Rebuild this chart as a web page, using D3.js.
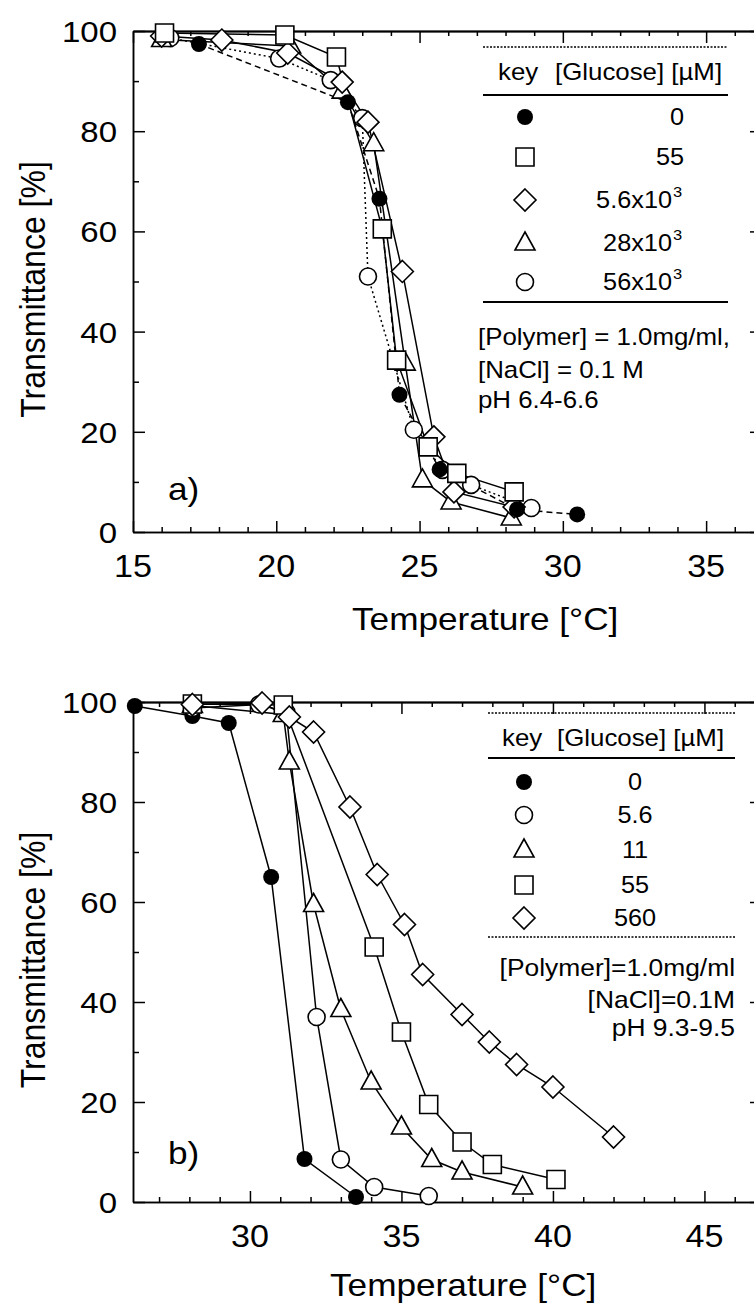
<!DOCTYPE html>
<html><head><meta charset="utf-8">
<script src="https://cdn.jsdelivr.net/npm/d3@7"></script>
<style>
html,body{margin:0;padding:0;background:#fff;}
svg{display:block;}
text{font-family:"Liberation Sans",Arial,Helvetica,sans-serif;fill:#000;}
</style></head><body>
<svg id="chart" width="754" height="1306"></svg>
<script>
// ---- Panel a) transmittance vs temperature, pH 6.4-6.6 : [T (°C), T (%)]
const a_glc0    = [[17.3,97.4],[22.5,85.8],[23.6,66.5],[24.3,27.4],[25.7,12.5],[28.4,4.5],[30.5,3.5]];
const a_glc55   = [[16.1,99.6],[20.3,99.2],[22.1,94.8],[23.7,60.5],[24.2,34.3],[25.3,17],[26.3,11.7],[28.3,8]];
const a_glc5600 = [[16.0,99],[18.1,98.2],[20.4,95.6],[22.3,89.8],[23.2,81.8],[24.4,52],[25.5,19],[26.2,8],[28.3,5]];
const a_glc28k  = [[16.0,98.3],[20.5,97],[22.3,88],[23.4,77.5],[24.5,33.7],[25.1,10.4],[26.1,6],[28.2,2.8]];
const a_glc56k  = [[16.3,98.6],[20.1,94.5],[21.9,90.2],[23.0,82.6],[23.2,51],[24.8,20.4],[25.8,12.4],[26.8,9.4],[28.9,4.8]];

// ---- Panel b) transmittance vs temperature, pH 9.3-9.5
const b_glc0    = [[26.2,99.2],[28.1,97.2],[29.3,95.8],[30.7,65],[31.8,8.6],[33.5,1]];
const b_glc5_6  = [[28.1,98.8],[30.3,99.5],[31.2,98],[32.2,37],[33.0,8.5],[34.1,3],[35.9,1.2]];
const b_glc11   = [[28.1,99.3],[31.1,97.5],[31.3,88],[32.1,59.5],[33.0,38.5],[34.0,24],[35.0,15],[36.0,8.5],[37.0,6],[39.0,3]];
const b_glc55   = [[28.1,99.6],[31.1,99.4],[34.1,51],[35.0,34],[35.9,19.5],[37.0,12],[38.0,7.5],[40.1,4.5]];
const b_glc560  = [[28.1,99.5],[30.4,99.8],[31.3,97],[32.1,94],[33.3,79],[34.2,65.5],[35.1,55.5],[35.7,45.5],[37.0,37.5],[37.9,32],[38.8,27.5],[40.0,23],[42.0,13]];

// ---- tick labels and legend text
const yTickLabels  = [0, 20, 40, 60, 80, 100];
const xTickLabelsA = [15, 20, 25, 30, 35];
const xTickLabelsB = [30, 35, 40, 45];
const legendA = [["0",""],["55",""],["5.6x10","3"],["28x10","3"],["56x10","3"]];
const legendB = ["0","5.6","11","55","560"];
const notesA = ["[Polymer] = 1.0mg/ml,", "[NaCl] = 0.1 M", "pH 6.4-6.6"];
const notesB = ["[Polymer]=1.0mg/ml", "[NaCl]=0.1M", "pH 9.3-9.5"];

const svg = d3.select("#chart");
const SX = 1.1; // glyphs are drawn slightly wide

function txt(g, x, y, s, size, anchor) {
  return g.append("text")
    .attr("transform", `translate(${x},${y}) scale(${SX},1)`)
    .attr("text-anchor", anchor || "start")
    .style("font-size", size + "px")
    .text(s);
}

function markerPath(type) {
  switch (type) {
    case "square":   return "M-9,-9h18v18h-18Z";
    case "diamond":  return "M0,-11L11,0L0,11L-11,0Z";
    case "triangle": return "M0,-11L10,7L-10,7Z";
    default: return null;
  }
}
function drawMarker(g, type, x, y) {
  if (type === "dot") {
    g.append("circle").attr("cx", x).attr("cy", y).attr("r", 8).attr("fill", "#000");
  } else if (type === "circle") {
    g.append("circle").attr("cx", x).attr("cy", y).attr("r", 8.5)
      .attr("fill", "#fff").attr("stroke", "#000").attr("stroke-width", 1.6);
  } else {
    g.append("path").attr("d", markerPath(type)).attr("transform", `translate(${x},${y})`)
      .attr("fill", "#fff").attr("stroke", "#000").attr("stroke-width", 1.6);
  }
}

function panel(cfg) {
  const g = svg.append("g");
  const x = d3.scaleLinear().domain(cfg.xDomain).range([133, 762]);
  const y = d3.scaleLinear().domain([0, 100]).range([cfg.bottom, cfg.top]);
  const [x0, x1] = cfg.xDomain;
  const ints = d3.range(Math.ceil(x0), Math.floor(x1) + 1);
  const major = ints.filter(d => d % 5 === 0);
  const minor = ints.filter(d => d % 5 !== 0);

  const axisStyle = sel => {
    sel.selectAll("line").attr("stroke", "#000").attr("stroke-width", 1.5);
    sel.selectAll("path").attr("stroke", "#000").attr("stroke-width", 1.5);
    sel.selectAll("text").remove();
  };
  // bottom
  g.append("g").attr("transform", `translate(0,${cfg.bottom})`)
    .call(d3.axisBottom(x).tickValues(minor).tickSize(-5).tickSizeOuter(0).tickFormat("")).call(axisStyle);
  g.append("g").attr("transform", `translate(0,${cfg.bottom})`)
    .call(d3.axisBottom(x).tickValues(major).tickSize(-11).tickSizeOuter(0).tickFormat("")).call(axisStyle);
  // top
  g.append("g").attr("transform", `translate(0,${cfg.top})`)
    .call(d3.axisTop(x).tickValues(minor).tickSize(-5).tickSizeOuter(0).tickFormat("")).call(axisStyle);
  g.append("g").attr("transform", `translate(0,${cfg.top})`)
    .call(d3.axisTop(x).tickValues(major).tickSize(-12).tickSizeOuter(0).tickFormat("")).call(axisStyle)
    .select(".domain").attr("stroke-width", 2.2);
  // left / right
  const yMinor = [10, 30, 50, 70, 90];
  [[d3.axisLeft, 133], [d3.axisRight, 762]].forEach(([ax, px]) => {
    g.append("g").attr("transform", `translate(${px},0)`)
      .call(ax(y).tickValues(yMinor).tickSize(-6).tickSizeOuter(0).tickFormat("")).call(axisStyle);
    g.append("g").attr("transform", `translate(${px},0)`)
      .call(ax(y).tickValues(yTickLabels).tickSize(-12).tickSizeOuter(0).tickFormat("")).call(axisStyle);
  });

  // tick labels
  yTickLabels.forEach(v => txt(g, 117, y(v) + 11, String(v), 30, "end"));
  cfg.xLabels.forEach(v => txt(g, x(v), cfg.bottom + 45, String(v), 31, "middle"));

  // axis titles
  txt(g, cfg.xTitleX, cfg.bottom + cfg.titleOffset, "Temperature [°C]", 32, "start");
  g.append("text")
    .attr("transform", `translate(45,${(cfg.top + cfg.bottom) / 2 + 8}) rotate(-90) scale(1,${SX})`)
    .attr("text-anchor", "middle").style("font-size", "32px")
    .text("Transmittance [%]");
  txt(g, 168, cfg.bottom - cfg.tagOffset, cfg.tag, 32, "start");

  // series
  const line = d3.line().x(d => x(d[0])).y(d => y(d[1]));
  cfg.series.forEach(s => {
    g.append("path").attr("d", line(s.data)).attr("fill", "none")
      .attr("stroke", "#000").attr("stroke-width", 1.5)
      .attr("stroke-dasharray", s.dash || null);
  });
  cfg.series.forEach(s => {
    s.data.forEach(d => drawMarker(g, s.type, x(d[0]), y(d[1])));
  });
  return { g, x, y };
}

// ---------- panel a
const pa = panel({
  xDomain: [15, 36.95], top: 31, bottom: 532, xLabels: xTickLabelsA,
  xTitleX: 352, titleOffset: 98, tag: "a)", tagOffset: 32,
  series: [
    { data: a_glc56k, type: "circle", dash: "2,3" },
    { data: a_glc28k, type: "triangle" },
    { data: a_glc5600, type: "diamond" },
    { data: a_glc55, type: "square" },
    { data: a_glc0, type: "dot", dash: "6,4" }
  ]
});
{
  const g = pa.g;
  g.append("line").attr("x1", 483).attr("x2", 728).attr("y1", 47).attr("y2", 47)
    .attr("stroke", "#000").attr("stroke-width", 1.5).attr("stroke-dasharray", "2,1.5");
  txt(g, 498, 80, "key", 23.5, "start");
  txt(g, 555, 80, "[Glucose] [µM]", 23.5, "start");
  g.append("line").attr("x1", 483).attr("x2", 728).attr("y1", 95).attr("y2", 95)
    .attr("stroke", "#000").attr("stroke-width", 1.8);
  const rowsY = [117, 157, 200, 243, 282];
  const types = ["dot", "square", "diamond", "triangle", "circle"];
  legendA.forEach((v, i) => {
    drawMarker(g, types[i], 525, rowsY[i]);
    txt(g, v[1] ? 672 : 684, rowsY[i] + 8, v[0], 23, "end");
    if (v[1]) txt(g, 673, rowsY[i] - 3, v[1], 15, "start");
  });
  g.append("line").attr("x1", 483).attr("x2", 728).attr("y1", 302).attr("y2", 302)
    .attr("stroke", "#000").attr("stroke-width", 1.8);
  notesA.forEach((s, i) => txt(g, 478, [345, 378, 408][i], s, 23.5, "start"));
}

// ---------- panel b
const pb = panel({
  xDomain: [26.14, 46.9], top: 702, bottom: 1202, xLabels: xTickLabelsB,
  xTitleX: 330, titleOffset: 94, tag: "b)", tagOffset: 38,
  series: [
    { data: b_glc0, type: "dot" },
    { data: b_glc5_6, type: "circle" },
    { data: b_glc11, type: "triangle" },
    { data: b_glc55, type: "square" },
    { data: b_glc560, type: "diamond" }
  ]
});
{
  const g = pb.g;
  g.append("line").attr("x1", 488).attr("x2", 735).attr("y1", 713).attr("y2", 713)
    .attr("stroke", "#000").attr("stroke-width", 1.5).attr("stroke-dasharray", "2,1.5");
  txt(g, 502, 746, "key", 23.5, "start");
  txt(g, 557, 746, "[Glucose] [µM]", 23.5, "start");
  g.append("line").attr("x1", 488).attr("x2", 735).attr("y1", 758).attr("y2", 758)
    .attr("stroke", "#000").attr("stroke-width", 1.8);
  const rowsY = [782, 815, 850, 885, 918];
  const types = ["dot", "circle", "triangle", "square", "diamond"];
  legendB.forEach((v, i) => {
    drawMarker(g, types[i], 524, rowsY[i]);
    txt(g, 635, rowsY[i] + 8, v, 23, "middle");
  });
  g.append("line").attr("x1", 488).attr("x2", 735).attr("y1", 937).attr("y2", 937)
    .attr("stroke", "#000").attr("stroke-width", 1.5).attr("stroke-dasharray", "2,1.5");
  notesB.forEach((s, i) => txt(g, 735, [976, 1008, 1036][i], s, 24, "end"));
}
</script>
</body></html>
